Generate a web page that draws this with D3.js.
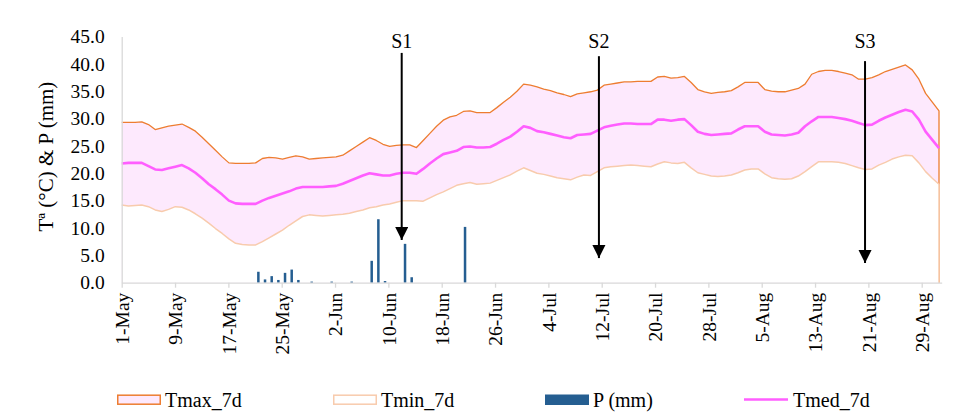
<!DOCTYPE html>
<html>
<head>
<meta charset="utf-8">
<script src="https://cdn.jsdelivr.net/npm/d3@7"></script>
<style>
  html, body { margin: 0; padding: 0; background: #fff; }
  svg { display: block; font-family: "Liberation Serif", "Times New Roman", serif; }
</style>
</head>
<body>
<svg id="chart" width="953" height="418"></svg>
<script>
// Season covered by the 7-day running series: 1 May – 31 Aug (123 days)
const seasonStart = "2021-05-01";
const seasonEnd = "2021-08-31";

// 7-day running maximum temperature (°C), one value per day
const tmax7d = [
  29.3, 29.3, 29.3, 29.4, 28.9, 28.0, 28.3, 28.6, 28.8, 29.0,
  28.4, 27.7, 26.6, 25.4, 24.2, 23.0, 21.9, 21.8, 21.8, 21.8,
  21.9, 22.7, 22.9, 22.8, 22.6, 22.9, 23.2, 23.0, 22.6, 22.7,
  22.8, 22.9, 23.0, 23.3, 24.1, 24.9, 25.7, 26.5, 26.0, 25.3,
  24.9, 25.1, 25.2, 25.2, 24.7, 26.0, 27.3, 28.6, 29.7, 30.3,
  30.6, 31.3, 31.4, 31.1, 31.1, 31.1, 32.0, 33.0, 33.9, 35.0,
  36.3, 36.1, 35.8, 35.4, 35.1, 34.7, 34.4, 34.0, 34.5, 34.7,
  34.9, 35.2, 36.1, 36.3, 36.5, 36.7, 36.7, 36.8, 36.8, 36.8,
  37.6, 37.7, 37.4, 37.5, 37.7, 36.6, 35.3, 34.9, 34.6, 34.8,
  34.9, 35.1, 35.8, 36.6, 36.6, 36.6, 35.3, 35.0, 34.9, 34.9,
  35.2, 35.5, 36.3, 38.1, 38.6, 38.8, 38.8, 38.6, 38.3, 38.0,
  37.2, 37.2, 37.5, 38.0, 38.6, 39.0, 39.4, 39.8, 38.9, 37.2,
  34.6, 33.0, 31.4
];

// 7-day running minimum temperature (°C)
const tmin7d = [
  14.2, 14.0, 14.1, 14.2, 13.9, 13.3, 13.0, 13.4, 13.9, 13.8,
  13.3, 12.6, 11.8, 10.9, 9.9, 9.0, 8.0, 7.2, 7.0, 6.9,
  6.9, 7.5, 8.2, 8.9, 9.6, 10.5, 11.3, 12.1, 12.4, 12.3,
  12.2, 12.3, 12.4, 12.5, 12.7, 13.0, 13.3, 13.7, 13.9, 14.2,
  14.4, 14.7, 15.0, 15.0, 15.0, 14.9, 15.5, 16.1, 16.6, 17.2,
  17.8, 18.1, 18.3, 18.0, 18.1, 18.2, 18.7, 19.2, 19.7, 20.4,
  21.0, 20.5, 20.0, 19.8, 19.5, 19.2, 19.0, 18.8, 19.3, 19.7,
  19.6, 20.3, 21.0, 21.2, 21.3, 21.4, 21.5, 21.4, 21.3, 21.2,
  21.7, 22.1, 21.9, 21.8, 22.0, 21.0, 20.1, 19.8, 19.5, 19.4,
  19.5, 19.7, 20.1, 20.6, 20.8, 20.8, 19.9, 19.2, 19.0, 18.9,
  19.0, 19.5, 20.3, 21.2, 22.1, 22.1, 22.1, 22.0, 21.8, 21.4,
  21.0, 20.7, 20.8, 21.5, 22.0, 22.6, 23.0, 23.3, 23.2, 21.9,
  20.3, 19.1, 18.0
];

// 7-day running mean temperature (°C)
const tmed7d = [
  21.8, 21.9, 21.9, 21.9, 21.3, 20.7, 20.6, 20.9, 21.2, 21.5,
  20.9, 20.1, 19.1, 18.0, 17.1, 16.1, 15.0, 14.5, 14.4, 14.4,
  14.4, 15.0, 15.5, 15.9, 16.3, 16.7, 17.2, 17.5, 17.5, 17.5,
  17.5, 17.6, 17.7, 18.1, 18.6, 19.1, 19.6, 20.0, 19.8, 19.6,
  19.6, 19.9, 20.1, 20.1, 19.9, 20.8, 21.8, 22.7, 23.5, 23.8,
  24.1, 24.8, 24.9, 24.7, 24.7, 24.8, 25.4, 26.1, 26.7, 27.6,
  28.6, 28.3, 27.7, 27.5, 27.2, 26.9, 26.6, 26.4, 27.0, 27.1,
  27.2, 27.8, 28.4, 28.7, 28.9, 29.1, 29.1, 29.0, 29.0, 29.0,
  29.8, 29.8, 29.6, 29.8, 29.9, 28.8, 27.6, 27.2, 27.0, 27.1,
  27.2, 27.3, 28.0, 28.6, 28.6, 28.6, 27.6, 27.1, 27.0, 26.9,
  27.1, 27.4, 28.6, 29.5, 30.3, 30.3, 30.3, 30.1, 29.9, 29.6,
  29.2, 28.8, 28.9, 29.6, 30.2, 30.7, 31.2, 31.6, 31.3, 29.8,
  27.6, 26.1, 24.6
];

// Daily precipitation (mm) on the days with rain
const rainDates = [
  "2021-05-21", "2021-05-22", "2021-05-23", "2021-05-24", "2021-05-25",
  "2021-05-26", "2021-05-27", "2021-05-29", "2021-06-01", "2021-06-04",
  "2021-06-07", "2021-06-08", "2021-06-09", "2021-06-12", "2021-06-13",
  "2021-06-21"
];
const rainMm = [
  2.0, 0.6, 1.2, 0.5, 1.8,
  2.4, 0.5, 0.2, 0.2, 0.2,
  4.0, 11.6, 0.3, 7.1, 1.0,
  10.2
];

// Sampling events marked with arrows
const samplingLabels = ["S1", "S2", "S3"];
const samplingDates = ["2021-06-12T00:00", "2021-07-11T14:00", "2021-08-20T12:00"];
const samplingTop = [42.0, 41.4, 40.5];     // arrow tail (°C / mm scale)
const samplingTip = [7.8, 4.5, 3.6];        // arrow head

// Axis ticks
const yTicks = [0, 5, 10, 15, 20, 25, 30, 35, 40, 45];
const xTickLabels = [
  "1-May", "9-May", "17-May", "25-May", "2-Jun", "10-Jun", "18-Jun", "26-Jun",
  "4-Jul", "12-Jul", "20-Jul", "28-Jul", "5-Aug", "13-Aug", "21-Aug", "29-Aug"
];

// ---------------------------------------------------------------------------
const svg = d3.select("#chart");
const plot = { left: 121.7, right: 941.7, top: 36.5, bottom: 282.7 };

const parseDay = d3.timeParse("%Y-%m-%d");
const parseTime = d3.timeParse("%Y-%m-%dT%H:%M");
const start = parseDay(seasonStart);
const end = parseDay(seasonEnd);
const days = d3.timeDay.range(start, d3.timeDay.offset(end, 1));
const year = start.getFullYear();

// Calendar axis: each day owns one slot between two tick positions
const x = d3.scaleTime()
  .domain([start, d3.timeDay.offset(end, 1)])
  .range([plot.left, plot.right]);
// Running series are spread from the first to the last day
const xLine = d3.scaleTime()
  .domain([start, end])
  .range([plot.left, 939]);
const y = d3.scaleLinear().domain([0, 45]).range([plot.bottom, plot.top]);

const series = days.map((d, i) => ({ date: d, tmax: tmax7d[i], tmin: tmin7d[i], tmed: tmed7d[i] }));

const colors = {
  tmaxFill: "#FDE9FD",
  tmaxLine: "#ED7D31",
  tminLine: "#F8CBAD",
  rain: "#255E91",
  tmed: "#FF5EFF",
  axis: "#D9D9D9"
};

// Tmax band (filled down to zero) and Tmin band (white) on top of it
function bandPaths(key, fill, stroke, width) {
  const area = d3.area().x(d => xLine(d.date)).y0(y(0)).y1(d => y(d[key]));
  const line = d3.line().x(d => xLine(d.date)).y(d => y(d[key]));
  svg.append("path").attr("d", area(series)).attr("fill", fill);
  svg.append("path")
    .attr("d", line(series) + "V" + y(0))
    .attr("fill", "none").attr("stroke", stroke)
    .attr("stroke-width", width).attr("stroke-linejoin", "round");
}
bandPaths("tmax", colors.tmaxFill, colors.tmaxLine, 1.3);
bandPaths("tmin", "#ffffff", colors.tminLine, 1.5);

// Precipitation bars
const barW = 2.5;
svg.append("g").selectAll("rect")
  .data(rainDates.map((d, i) => ({ date: parseDay(d), v: rainMm[i] })))
  .join("rect")
  .attr("x", d => x(d3.timeHour.offset(d.date, 12)) - barW / 2)
  .attr("y", d => y(d.v))
  .attr("width", barW)
  .attr("height", d => y(0) - y(d.v))
  .attr("fill", colors.rain);

// 7-day mean temperature
svg.append("path")
  .attr("d", d3.line().x(d => xLine(d.date)).y(d => y(d.tmed))(series))
  .attr("fill", "none").attr("stroke", colors.tmed)
  .attr("stroke-width", 2.6).attr("stroke-linejoin", "round");

// Axes
const yAxis = svg.append("g")
  .attr("transform", `translate(${plot.left},0)`)
  .call(d3.axisLeft(y).tickValues(yTicks).tickFormat(d3.format(".1f")).tickSize(0).tickPadding(17));
yAxis.select(".domain").attr("stroke", colors.axis).attr("stroke-width", 1.3);
yAxis.selectAll("text").attr("font-size", 19.5).attr("fill", "#000")
  .attr("font-family", "Liberation Serif, serif");

const tickDates = xTickLabels.map(s => d3.timeParse("%-d-%b-%Y")(s + "-" + year));
const xAxis = svg.append("g")
  .attr("transform", `translate(0,${plot.bottom})`)
  .call(d3.axisBottom(x).tickValues(tickDates).tickFormat((d, i) => xTickLabels[i]).tickSize(5).tickSizeOuter(0));
xAxis.select(".domain").attr("stroke", colors.axis).attr("stroke-width", 1.3);
xAxis.selectAll(".tick line").attr("stroke", colors.axis).attr("stroke-width", 1.3);
xAxis.selectAll("text")
  .attr("font-size", 19.5).attr("fill", "#000")
  .attr("font-family", "Liberation Serif, serif")
  .attr("transform", "rotate(-90)")
  .attr("text-anchor", "end")
  .attr("x", -10).attr("y", 0).attr("dy", "0.35em");

// Y axis title
svg.append("text")
  .attr("transform", `translate(53,${(plot.top + plot.bottom) / 2 - 3}) rotate(-90)`)
  .attr("text-anchor", "middle")
  .attr("font-size", 21)
  .text("Tª (°C) & P (mm)");

// Sampling arrows
svg.append("defs").append("marker")
  .attr("id", "head")
  .attr("viewBox", "0 0 10 10")
  .attr("refX", 10).attr("refY", 5)
  .attr("markerUnits", "userSpaceOnUse")
  .attr("markerWidth", 13.5).attr("markerHeight", 13.5)
  .attr("orient", "auto")
  .append("path").attr("d", "M0,0L10,5L0,10Z").attr("fill", "#000");

const arrows = svg.append("g");
samplingLabels.forEach((label, i) => {
  const ax = x(parseTime(samplingDates[i]));
  arrows.append("line")
    .attr("x1", ax).attr("x2", ax)
    .attr("y1", y(samplingTop[i])).attr("y2", y(samplingTip[i]))
    .attr("stroke", "#000").attr("stroke-width", 2)
    .attr("marker-end", "url(#head)");
  arrows.append("text")
    .attr("x", ax).attr("y", 47.5)
    .attr("text-anchor", "middle")
    .attr("font-size", 20)
    .text(label);
});

// Legend
const legend = svg.append("g").attr("font-size", 20);
const legendItems = [
  { name: "Tmax_7d", kind: "band", fill: colors.tmaxFill, stroke: colors.tmaxLine, sx: 117, tx: 165 },
  { name: "Tmin_7d", kind: "band", fill: "#ffffff", stroke: colors.tminLine, sx: 333, tx: 381 },
  { name: "P (mm)", kind: "bar", fill: colors.rain, sx: 545, tx: 593 },
  { name: "Tmed_7d", kind: "line", stroke: colors.tmed, sx: 744, tx: 793 }
];
legendItems.forEach(it => {
  if (it.kind === "band") {
    legend.append("rect").attr("x", it.sx + 0.75).attr("y", 395.2).attr("width", 42.5).attr("height", 9)
      .attr("fill", it.fill).attr("stroke", it.stroke).attr("stroke-width", 1.5);
  } else if (it.kind === "bar") {
    legend.append("rect").attr("x", it.sx).attr("y", 394.5).attr("width", 44).attr("height", 10.5)
      .attr("fill", it.fill);
  } else {
    legend.append("line").attr("x1", it.sx).attr("x2", it.sx + 44).attr("y1", 399.5).attr("y2", 399.5)
      .attr("stroke", it.stroke).attr("stroke-width", 2.6);
  }
  legend.append("text").attr("x", it.tx).attr("y", 406.5).text(it.name);
});
</script>
</body>
</html>
